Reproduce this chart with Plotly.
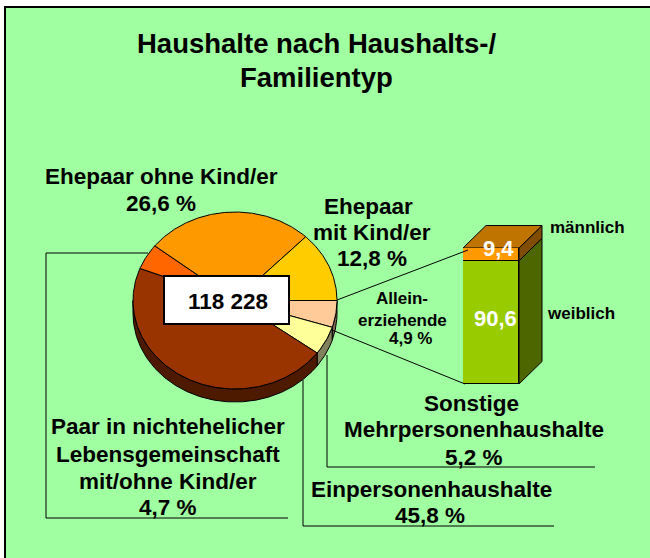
import numpy as np
import plotly.graph_objects as go

# Data
slice_names = ["Alleinerziehende", "Sonstige Mehrpersonenhaushalte", "Einpersonenhaushalte",
               "Paar in nichtehelicher Lebensgemeinschaft mit/ohne Kind/er",
               "Ehepaar ohne Kind/er", "Ehepaar mit Kind/er"]
slice_values = [4.9, 5.2, 45.8, 4.7, 26.6, 12.8]
slice_colors = ["#FFCC99", "#FFFF99", "#993300", "#FF6600", "#FF9900", "#FFCC00"]
side_colors = ["#806650", "#80805A", "#4D1A00", "#803300", "#804D00", "#806600"]
total_label = "118 228"
bar_names = ["weiblich", "männlich"]
bar_values = [90.6, 9.4]
bar_colors = ["#99CC00", "#FF9900"]
bar_labels = ["90,6", "9,4"]

BG = "#A0FFA0"
FONT = "Liberation Sans"
W, H = 650, 558

# Layout geometry
CX, CY, RX, RY, DEPTH = 235, 300.5, 102, 88.5, 13
START = 90.0
BAR_L, BAR_R, BAR_T, BAR_B = 463, 519, 248, 384
OFF_X, OFF_Y = 23, 22.5

fig = go.Figure()


def arc(a, b, dy=0.0):
    t = np.radians(np.linspace(a, b, max(int(abs(b - a)) * 2, 2)))
    return CX + RX * np.sin(t), CY + dy - RY * np.cos(t)


def poly(x, y, fill, name, width=1):
    fig.add_trace(go.Scatter(x=list(x), y=list(y), mode="lines", fill="toself", fillcolor=fill,
                             line=dict(color="#000000", width=width), name=name,
                             showlegend=False, hoverinfo="name", xaxis="x", yaxis="y"))


edges = START + np.concatenate([[0], np.cumsum(slice_values)]) * 3.6

# pie side walls (front half only)
for i, name in enumerate(slice_names):
    a, b = max(edges[i], 90), min(edges[i + 1], 270)
    if b > a:
        x1, y1 = arc(a, b)
        x2, y2 = arc(a, b, DEPTH)
        poly(np.r_[x1, x2[::-1], x1[0]], np.r_[y1, y2[::-1], y1[0]], side_colors[i], name + " (Seite)")

# pie top surface
for i, name in enumerate(slice_names):
    x1, y1 = arc(edges[i], edges[i + 1])
    poly(np.r_[CX, x1, CX], np.r_[CY, y1, CY], slice_colors[i], name)

# 3-D faces of the column
boundary = BAR_T + (BAR_B - BAR_T) * bar_values[1] / sum(bar_values)
poly([BAR_R, BAR_R + OFF_X, BAR_R + OFF_X, BAR_R, BAR_R],
     [boundary, boundary - OFF_Y, BAR_B - OFF_Y, BAR_B, boundary], "#4D6600", "weiblich (Seite)")
poly([BAR_R, BAR_R + OFF_X, BAR_R + OFF_X, BAR_R, BAR_R],
     [BAR_T, BAR_T - OFF_Y, boundary - OFF_Y, boundary, BAR_T], "#804D00", "männlich (Seite)")
poly([BAR_L, BAR_L + OFF_X, BAR_R + OFF_X, BAR_R, BAR_L],
     [BAR_T, BAR_T - OFF_Y, BAR_T - OFF_Y, BAR_T, BAR_T], "#C07400", "männlich (oben)")

# column front
for v, n, c in zip(bar_values, bar_names, bar_colors):
    fig.add_trace(go.Bar(x=[0], y=[v], name=n, marker=dict(color=c, line=dict(color="#000000", width=1)),
                         width=1, showlegend=False, xaxis="x2", yaxis="y2"))

shapes = [
    dict(type="rect", x0=5, y0=7, x1=W + 10, y1=H + 10, fillcolor=BG, line=dict(color="#000000", width=2),
         layer="below"),
    dict(type="rect", x0=164, y0=276, x1=289, y1=324, fillcolor="#FFFFFF", line=dict(color="#000000", width=2),
         layer="above"),
]
leaders = [
    [(148, 253), (46, 253), (46, 518), (288, 518)],
    [(303, 380), (303, 526), (554, 526)],
    [(327, 355), (327, 467), (595, 467)],
    [(337, 300), (468, 250)],
    [(332, 330), (465, 384)],
]
for pts in leaders:
    for (x0, y0), (x1, y1) in zip(pts[:-1], pts[1:]):
        shapes.append(dict(type="line", x0=x0, y0=y0, x1=x1, y1=y1, layer="above",
                           line=dict(color="#000000", width=1)))

# (text, centre x, centre y, size, colour)
K = "#000000"
texts = [
    ("Haushalte nach Haushalts-/", 316, 43, 27.5, K),
    ("Familientyp", 316, 77, 27.5, K),
    ("Ehepaar ohne Kind/er", 161, 176, 22.5, K),
    ("26,6 %", 161, 203, 22.5, K),
    ("Ehepaar", 368, 206, 22.5, K),
    ("mit Kind/er", 372, 232, 22.5, K),
    ("12,8 %", 372, 258, 22.5, K),
    ("Allein-", 402, 298, 17, K),
    ("erziehende", 402, 320, 17, K),
    ("4,9 %", 410, 338, 17, K),
    ("männlich", 587, 227, 17, K),
    ("weiblich", 581, 313, 17, K),
    ("Sonstige", 471, 403, 22.5, K),
    ("Mehrpersonenhaushalte", 473.5, 429, 22.5, K),
    ("5,2 %", 474, 457, 22.5, K),
    ("Paar in nichtehelicher", 167.5, 426, 22.5, K),
    ("Lebensgemeinschaft", 168, 454, 22.5, K),
    ("mit/ohne Kind/er", 168, 481, 22.5, K),
    ("4,7 %", 168, 507, 22.5, K),
    ("Einpersonenhaushalte", 431, 489, 22.5, K),
    ("45,8 %", 430, 515, 22.5, K),
    (total_label, 228, 301, 22.5, K),
    (bar_labels[1], 498, 248, 22, "#FFFFFF"),
    (bar_labels[0], 495, 318, 22, "#FFFFFF"),
]
annotations = [dict(text=f"<b>{t}</b>", x=x, y=y, xref="x", yref="y", showarrow=False, xanchor="center",
                    yanchor="middle", font=dict(family=FONT, size=s, color=c)) for t, x, y, s, c in texts]

fig.update_layout(
    width=W, height=H, margin=dict(l=0, r=0, t=0, b=0), autosize=False,
    paper_bgcolor="#FFFFFF", plot_bgcolor="rgba(0,0,0,0)", showlegend=False,
    barmode="stack", bargap=0, shapes=shapes, annotations=annotations,
    font=dict(family=FONT),
    xaxis=dict(range=[0, W], domain=[0, 1], visible=False, fixedrange=True),
    yaxis=dict(range=[H, 0], domain=[0, 1], visible=False, fixedrange=True),
    xaxis2=dict(range=[-0.5, 0.5], domain=[BAR_L / W, BAR_R / W], visible=False, anchor="y2", fixedrange=True),
    yaxis2=dict(range=[0, 100], domain=[(H - BAR_B) / H, (H - BAR_T) / H], visible=False, anchor="x2", fixedrange=True),
)
fig.write_html("out.html", config=dict(displayModeBar=False),
               post_script="document.body.style.margin='0';document.body.style.overflow='hidden';")
